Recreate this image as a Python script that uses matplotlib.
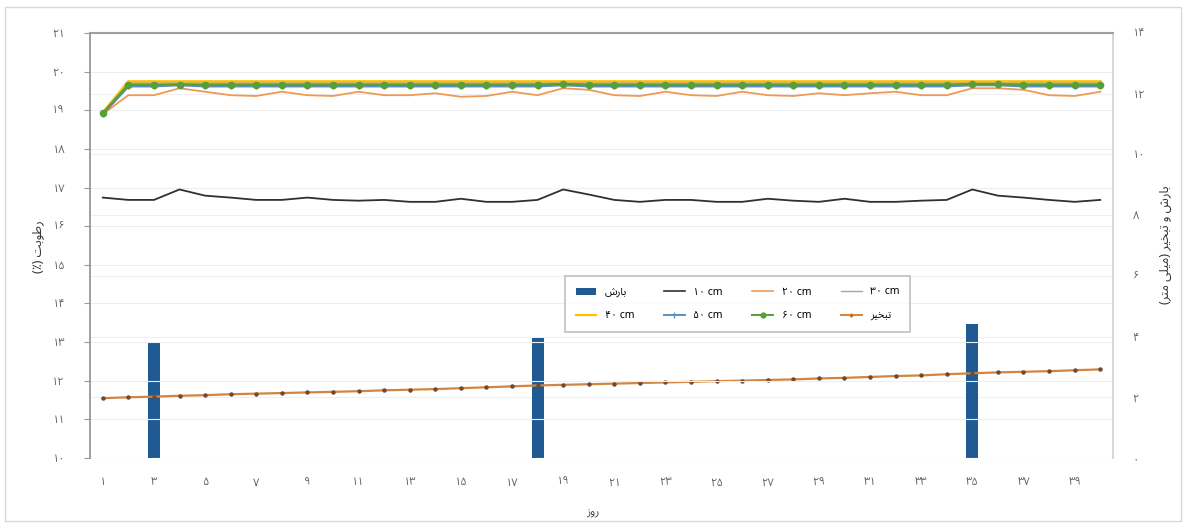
import matplotlib
matplotlib.use("Agg")
import matplotlib.pyplot as plt
from matplotlib.lines import Line2D
from matplotlib.patches import Rectangle, Patch
from matplotlib import font_manager
from matplotlib.ft2font import FT2Font

days = list(range(1, 41))

precip = [0, 0, 3.78, 0, 0, 0, 0, 0, 0, 0,
          0, 0, 0, 0, 0, 0, 0, 3.95, 0, 0,
          0, 0, 0, 0, 0, 0, 0, 0, 0, 0,
          0, 0, 0, 0, 4.43, 0, 0, 0, 0, 0]

evap = [1.97, 2.00, 2.02, 2.05, 2.07, 2.10, 2.12, 2.14, 2.16, 2.18,
        2.20, 2.23, 2.25, 2.27, 2.30, 2.33, 2.36, 2.39, 2.41, 2.43,
        2.45, 2.47, 2.49, 2.51, 2.53, 2.55, 2.57, 2.59, 2.62, 2.64,
        2.67, 2.70, 2.72, 2.76, 2.79, 2.82, 2.84, 2.86, 2.89, 2.92]

m10 = [16.74, 16.68, 16.68, 16.95, 16.79, 16.74, 16.68, 16.68, 16.74, 16.68,
       16.66, 16.68, 16.63, 16.63, 16.71, 16.63, 16.63, 16.68, 16.95, 16.82,
       16.68, 16.63, 16.68, 16.68, 16.63, 16.63, 16.71, 16.66, 16.63, 16.71,
       16.63, 16.63, 16.66, 16.68, 16.95, 16.79, 16.74, 16.68, 16.63, 16.68]

m20 = [18.90, 19.39, 19.39, 19.57, 19.48, 19.39, 19.37, 19.48, 19.39, 19.37,
       19.48, 19.39, 19.39, 19.44, 19.35, 19.37, 19.48, 19.39, 19.57, 19.53,
       19.39, 19.37, 19.48, 19.39, 19.37, 19.48, 19.39, 19.37, 19.44, 19.39,
       19.44, 19.48, 19.39, 19.39, 19.57, 19.57, 19.53, 19.39, 19.37, 19.48]

m30 = [18.92, 19.70, 19.70, 19.70, 19.70, 19.70, 19.70, 19.70, 19.70, 19.70,
       19.70, 19.70, 19.70, 19.70, 19.70, 19.70, 19.70, 19.70, 19.70, 19.70,
       19.70, 19.70, 19.70, 19.70, 19.70, 19.70, 19.70, 19.70, 19.70, 19.70,
       19.70, 19.70, 19.70, 19.70, 19.70, 19.70, 19.70, 19.70, 19.70, 19.70]

m40 = [18.93, 19.74, 19.74, 19.74, 19.74, 19.74, 19.74, 19.74, 19.74, 19.74,
       19.74, 19.74, 19.74, 19.74, 19.74, 19.74, 19.74, 19.74, 19.74, 19.74,
       19.74, 19.74, 19.74, 19.74, 19.74, 19.74, 19.74, 19.74, 19.74, 19.74,
       19.74, 19.74, 19.74, 19.74, 19.74, 19.74, 19.74, 19.74, 19.74, 19.74]

m50 = [18.91, 19.63, 19.63, 19.66, 19.63, 19.63, 19.63, 19.63, 19.63, 19.63,
       19.63, 19.63, 19.63, 19.63, 19.63, 19.63, 19.63, 19.63, 19.66, 19.63,
       19.63, 19.63, 19.63, 19.63, 19.63, 19.63, 19.63, 19.63, 19.63, 19.63,
       19.63, 19.63, 19.63, 19.63, 19.66, 19.66, 19.63, 19.63, 19.63, 19.63]

m60 = [18.92, 19.66, 19.66, 19.66, 19.66, 19.66, 19.66, 19.66, 19.66, 19.66,
       19.66, 19.66, 19.66, 19.66, 19.66, 19.66, 19.66, 19.66, 19.68, 19.66,
       19.66, 19.66, 19.66, 19.66, 19.66, 19.66, 19.66, 19.66, 19.66, 19.66,
       19.66, 19.66, 19.66, 19.66, 19.68, 19.68, 19.66, 19.66, 19.66, 19.66]

left_ticks = [10, 11, 12, 13, 14, 15, 16, 17, 18, 19, 20, 21]
left_labels = ['۱۰', '۱۱', '۱۲', '۱۳', '۱۴', '۱۵', '۱۶', '۱۷', '۱۸', '۱۹', '۲۰', '۲۱']
right_ticks = [0, 2, 4, 6, 8, 10, 12, 14]
right_labels = ['۰', '۲', '۴', '۶', '۸', '۱۰', '۱۲', '۱۴']
x_ticks = list(range(1, 40, 2))
x_labels = ['۱', '۳', '۵', '۷', '۹', '۱۱', '۱۳', '۱۵', '۱۷', '۱۹',
            '۲۱', '۲۳', '۲۵', '۲۷', '۲۹', '۳۱', '۳۳', '۳۵', '۳۷', '۳۹']

# Persian text written in visual (shaped, left-to-right) order
lbl_precip = 'ﺵﺭﺎﺑ'            # بارش
lbl_evap = 'ﺮﻴﺨﺒﺗ'             # تبخیر
lbl_depths = ['۱۰ cm', '۲۰ cm', '۳۰ cm', '۴۰ cm', '۵۰ cm', '۶۰ cm']
ylabel_left = '(٪) ﺖﺑﻮﻃﺭ'       # رطوبت (٪)
ylabel_right = '(ﺮﺘﻣ ﻰﻠﻴﻣ) ﺮﻴﺨﺒﺗ ﻭ ﺵﺭﺎﺑ'   # بارش و تبخیر (میلی متر)
xlabel = 'ﺯﻭﺭ'                 # روز

# choose an installed Arabic-script family that covers every character used
persian_text = ''.join([lbl_precip, lbl_evap, ylabel_left, ylabel_right, xlabel]
                       + left_labels + right_labels + x_labels)
needed = set(ord(c) for c in persian_text if not c.isspace())
preferred = ['Noto Sans Arabic', 'Vazirmatn', 'Noto Naskh Arabic', 'Almarai', 'Cairo',
             'Tajawal', 'IBM Plex Sans Arabic', 'Alexandria', 'Beiruti', 'Amiri']
by_name = {}
for fe in font_manager.fontManager.ttflist:
    by_name.setdefault(fe.name, []).append(fe.fname)

def covers(name):
    for path in by_name.get(name, []):
        try:
            if needed <= set(FT2Font(path).get_charmap().keys()):
                return True
        except Exception:
            pass
    return False

arabic_family = None
for name in preferred:
    if name in by_name and covers(name):
        arabic_family = name
        break
if arabic_family is None:
    for name in sorted(by_name):
        if covers(name):
            arabic_family = name
            break
families = ([arabic_family] if arabic_family else []) + ['DejaVu Sans']
plt.rcParams['font.family'] = families

fig = plt.figure(figsize=(11.86, 5.24), dpi=100)
fig.patch.set_facecolor('white')
fig.patches.append(Rectangle((5/1186, 3/524), 1176/1186, 514/524, transform=fig.transFigure,
                             fill=False, edgecolor='#d9d9d9', linewidth=1.0))

ax = fig.add_axes([90/1186, 1 - 458/524, (1113 - 90)/1186, (458 - 33)/524])
ax2 = ax.twinx()
ax.set_zorder(ax2.get_zorder() + 1)
ax.patch.set_visible(False)

# secondary axis (bars + evaporation)
ax2.bar(days, precip, width=0.47, color='#1f5a93', zorder=2)
ax2.plot(days, evap, color='#d3843f', linewidth=1.6, zorder=3)
ax2.plot(days, evap, linestyle='none', marker='o', markersize=2.2, color='#6b4a3a', zorder=4)
ax2.set_ylim(0, 14)
ax2.set_yticks(right_ticks)
ax2.set_yticklabels(right_labels)
for y in right_ticks:
    ax2.axhline(y, color='#f0f0f0', linewidth=0.8, zorder=0)

# primary axis (moisture)
for y in left_ticks:
    ax.axhline(y, color='#eeeeee', linewidth=0.8, zorder=0)
ax.plot(days, m40, color='#ffc000', linewidth=2.2, zorder=3)
ax.plot(days, m30, color='#a5a5a5', linewidth=1.0, zorder=3)
ax.plot(days, m20, color='#ee9a55', linewidth=1.3, zorder=3)
ax.plot(days, m50, color='#5b8fc0', linewidth=2.2, marker='|', markersize=5, zorder=4)
ax.plot(days, m60, color='#5a9e3a', linewidth=1.6, marker='o', markersize=4.5, zorder=5)
ax.plot(days, m10, color='#303030', linewidth=1.3, zorder=3)

ax.set_xlim(0.5, 40.5)
ax.set_ylim(10, 21)
ax.set_yticks(left_ticks)
ax.set_yticklabels(left_labels)
ax.set_xticks(x_ticks)
ax.set_xticklabels(x_labels)

for a in (ax, ax2):
    a.tick_params(axis='both', labelsize=8, colors='#666666', length=0, pad=12)
    for s in a.spines.values():
        s.set_visible(False)
ax.tick_params(axis='y', length=4, color='#999999', pad=14)
ax2.tick_params(axis='y', pad=14)
ax.tick_params(axis='x', pad=14)

ax.spines['left'].set_visible(True)
ax.spines['left'].set_color('#909090')
ax.spines['left'].set_linewidth(1.2)
ax.spines['top'].set_visible(True)
ax.spines['top'].set_color('#a0a0a0')
ax.spines['top'].set_linewidth(1.5)
ax.spines['right'].set_visible(True)
ax.spines['right'].set_color('#d0d0d0')
ax.spines['right'].set_linewidth(1.2)

fig.text(38/1186, 1 - 247/524, ylabel_left, rotation=90, ha='center', va='center',
         fontsize=9, color='#333333')
fig.text(1165/1186, 1 - 245/524, ylabel_right, rotation=90, ha='center', va='center',
         fontsize=9, color='#333333')
fig.text(593/1186, 1 - 513/524, xlabel, ha='center', va='center', fontsize=8,
         color='#444444', style='italic')

handles = [
    Patch(facecolor='#1f5a93', edgecolor='none'),
    Line2D([], [], color='#303030', linewidth=1.2),
    Line2D([], [], color='#ee9a55', linewidth=1.2),
    Line2D([], [], color='#a5a5a5', linewidth=1.0),
    Line2D([], [], color='#ffc000', linewidth=1.6),
    Line2D([], [], color='#5b8fc0', linewidth=1.4, marker='|', markersize=4),
    Line2D([], [], color='#5a9e3a', linewidth=1.4, marker='o', markersize=3.5),
    Line2D([], [], color='#d3843f', linewidth=1.4, marker='o', markersize=2, markerfacecolor='#6b4a3a'),
]
labels = [lbl_precip, lbl_depths[0], lbl_depths[1], lbl_depths[2],
          lbl_depths[3], lbl_depths[4], lbl_depths[5], lbl_evap]
order = [0, 4, 1, 5, 2, 6, 3, 7]
leg = fig.legend([handles[i] for i in order], [labels[i] for i in order], ncol=4,
                 loc='lower left', bbox_to_anchor=(560/1186, 1 - 337/524, 355/1186, 72/524),
                 mode='expand', fontsize=7.5, frameon=True, fancybox=False, shadow=False,
                 handlelength=2.0, borderpad=1.0, labelspacing=1.2, columnspacing=1.5)
leg.get_frame().set_edgecolor('#b0b0b0')
leg.get_frame().set_linewidth(1.2)

fig.savefig('out.png', dpi=100, facecolor='white')
